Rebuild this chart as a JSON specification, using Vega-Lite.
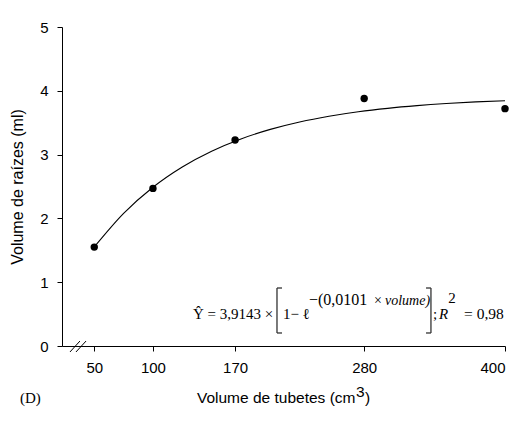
{
  "$schema": "https://vega.github.io/schema/vega-lite/v6.json",
  "width": 443,
  "height": 319,
  "autosize": {"type": "none"},
  "padding": {"left": 62, "top": 27, "right": 17, "bottom": 79},
  "background": "white",
  "config": {
    "view": {"stroke": null},
    "axis": {
      "grid": false,
      "domainColor": "black",
      "tickColor": "black",
      "labelColor": "black",
      "titleColor": "black",
      "labelFont": "Liberation Sans",
      "titleFont": "Liberation Sans",
      "labelFontSize": 15,
      "titleFontSize": 16,
      "titleFontWeight": "normal",
      "tickSize": 5,
      "domainWidth": 1,
      "tickWidth": 1
    }
  },
  "datasets": {
    "points": [
      {"volume": 50, "raiz": 1.55},
      {"volume": 100, "raiz": 2.47},
      {"volume": 170, "raiz": 3.23},
      {"volume": 280, "raiz": 3.88},
      {"volume": 400, "raiz": 3.72}
    ],
    "curve": [
      {"volume": 50, "raiz": 1.552},
      {"volume": 75, "raiz": 2.079},
      {"volume": 100, "raiz": 2.489},
      {"volume": 125, "raiz": 2.807},
      {"volume": 150, "raiz": 3.054},
      {"volume": 175, "raiz": 3.246},
      {"volume": 200, "raiz": 3.395},
      {"volume": 225, "raiz": 3.511},
      {"volume": 250, "raiz": 3.601},
      {"volume": 275, "raiz": 3.671},
      {"volume": 300, "raiz": 3.725},
      {"volume": 325, "raiz": 3.767},
      {"volume": 350, "raiz": 3.800},
      {"volume": 375, "raiz": 3.826},
      {"volume": 400, "raiz": 3.845}
    ]
  },
  "layer": [
    {
      "data": {"name": "curve"},
      "mark": {"type": "line", "color": "black", "strokeWidth": 1.1, "interpolate": "monotone"},
      "encoding": {
        "x": {
          "field": "volume", "type": "quantitative",
          "scale": {"domain": [22.5, 400], "nice": false, "zero": false},
          "axis": {"values": [50, 100, 170, 280, 400], "title": null, "labelPadding": 9}
        },
        "y": {
          "field": "raiz", "type": "quantitative",
          "scale": {"domain": [0, 5], "nice": false},
          "axis": {"values": [0, 1, 2, 3, 4, 5], "format": "d", "title": "Volume de raízes (ml)", "labelPadding": 9, "titlePadding": 14}
        }
      }
    },
    {
      "data": {"name": "points"},
      "mark": {"type": "point", "filled": true, "color": "black", "opacity": 1, "size": 55},
      "encoding": {
        "x": {"field": "volume", "type": "quantitative"},
        "y": {"field": "raiz", "type": "quantitative"}
      }
    },
    {
      "data": {"values": [{}]},
      "layer": [
        {"mark": {"type": "rule", "color": "#333", "strokeWidth": 1.3},
         "encoding": {"x": {"datum": 205.7}, "y": {"datum": 0.909}, "y2": {"datum": 0.204}}},
        {"mark": {"type": "rule", "color": "#333", "strokeWidth": 1.3},
         "encoding": {"x": {"datum": 205.7}, "x2": {"datum": 210.0}, "y": {"datum": 0.909}}},
        {"mark": {"type": "rule", "color": "#333", "strokeWidth": 1.3},
         "encoding": {"x": {"datum": 205.7}, "x2": {"datum": 210.0}, "y": {"datum": 0.204}}},
        {"mark": {"type": "rule", "color": "#333", "strokeWidth": 1.3},
         "encoding": {"x": {"datum": 336.9}, "y": {"datum": 0.909}, "y2": {"datum": 0.204}}},
        {"mark": {"type": "rule", "color": "#333", "strokeWidth": 1.3},
         "encoding": {"x": {"datum": 332.7}, "x2": {"datum": 336.9}, "y": {"datum": 0.909}}},
        {"mark": {"type": "rule", "color": "#333", "strokeWidth": 1.3},
         "encoding": {"x": {"datum": 332.7}, "x2": {"datum": 336.9}, "y": {"datum": 0.204}}},
        {"mark": {"type": "rule", "color": "black", "strokeWidth": 1},
         "encoding": {"x": {"datum": 29.3}, "x2": {"datum": 37.8}, "y": {"datum": -0.094}, "y2": {"datum": 0.078}}},
        {"mark": {"type": "rule", "color": "black", "strokeWidth": 1},
         "encoding": {"x": {"datum": 34.4}, "x2": {"datum": 43.0}, "y": {"datum": -0.094}, "y2": {"datum": 0.078}}},
        {"mark": {"type": "text", "text": "Ŷ = 3,9143 ×", "font": "Liberation Serif", "fontSize": 15, "align": "left", "baseline": "alphabetic", "color": "black"},
         "encoding": {"x": {"datum": 134.1}, "y": {"datum": 0.423}}},
        {"mark": {"type": "text", "text": "1− ℓ", "font": "Liberation Serif", "fontSize": 15, "align": "left", "baseline": "alphabetic", "color": "black"},
         "encoding": {"x": {"datum": 210.8}, "y": {"datum": 0.423}}},
        {"mark": {"type": "text", "text": "−(0,0101", "font": "Liberation Serif", "fontSize": 16, "align": "left", "baseline": "alphabetic", "color": "black"},
         "encoding": {"x": {"datum": 232.9}, "y": {"datum": 0.643}}},
        {"mark": {"type": "text", "text": "×", "font": "Liberation Serif", "fontSize": 14, "align": "left", "baseline": "alphabetic", "color": "black"},
         "encoding": {"x": {"datum": 288.4}, "y": {"datum": 0.643}}},
        {"mark": {"type": "text", "text": "volume)", "font": "Liberation Serif", "fontSize": 14, "fontStyle": "italic", "align": "left", "baseline": "alphabetic", "color": "black"},
         "encoding": {"x": {"datum": 297.7}, "y": {"datum": 0.643}}},
        {"mark": {"type": "text", "text": ";", "font": "Liberation Serif", "fontSize": 15, "align": "left", "baseline": "alphabetic", "color": "black"},
         "encoding": {"x": {"datum": 338.6}, "y": {"datum": 0.423}}},
        {"mark": {"type": "text", "text": "R", "font": "Liberation Serif", "fontSize": 15, "fontStyle": "italic", "align": "left", "baseline": "alphabetic", "color": "black"},
         "encoding": {"x": {"datum": 343.8}, "y": {"datum": 0.423}}},
        {"mark": {"type": "text", "text": "2", "font": "Liberation Serif", "fontSize": 15, "align": "left", "baseline": "alphabetic", "color": "black"},
         "encoding": {"x": {"datum": 351.6}, "y": {"datum": 0.674}}},
        {"mark": {"type": "text", "text": "= 0,98", "font": "Liberation Serif", "fontSize": 15.5, "align": "left", "baseline": "alphabetic", "color": "black"},
         "encoding": {"x": {"datum": 365.1}, "y": {"datum": 0.423}}},
        {"mark": {"type": "text", "text": "(D)", "font": "Liberation Serif", "fontSize": 15, "align": "left", "baseline": "alphabetic", "color": "black"},
         "encoding": {"x": {"datum": -13.3}, "y": {"datum": -0.893}}},
        {"mark": {"type": "text", "text": "Volume de tubetes (cm", "font": "Liberation Sans", "fontSize": 15.5, "align": "left", "baseline": "alphabetic", "color": "black"},
         "encoding": {"x": {"datum": 137.5}, "y": {"datum": -0.893}}},
        {"mark": {"type": "text", "text": "3", "font": "Liberation Sans", "fontSize": 15.5, "align": "left", "baseline": "alphabetic", "color": "black"},
         "encoding": {"x": {"datum": 273.0}, "y": {"datum": -0.80}}},
        {"mark": {"type": "text", "text": ")", "font": "Liberation Sans", "fontSize": 15.5, "align": "left", "baseline": "alphabetic", "color": "black"},
         "encoding": {"x": {"datum": 280.7}, "y": {"datum": -0.893}}}
      ]
    }
  ]
}
